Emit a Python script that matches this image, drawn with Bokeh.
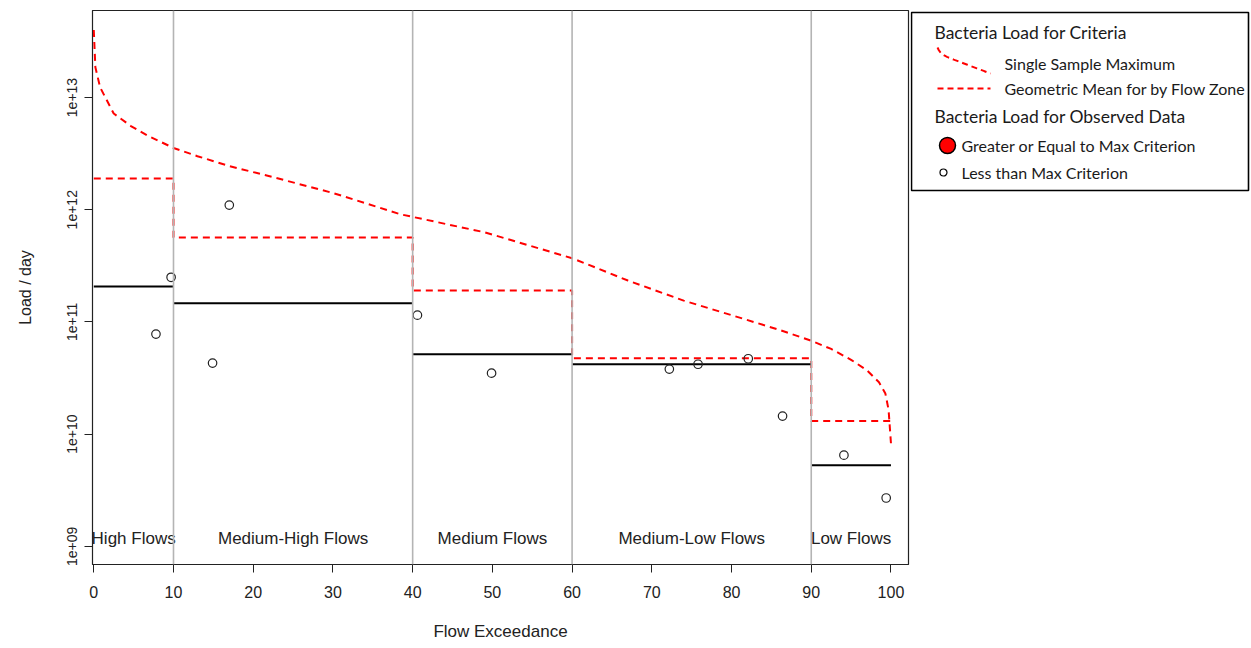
import numpy as np
from bokeh.plotting import figure
from bokeh.models import Range1d, FixedTicker, CustomJSTickFormatter, Span
from bokeh.layouts import row
from bokeh.embed import file_html
from bokeh.resources import INLINE
from bokeh.core.properties import value

# ---------------- data ----------------
flow_pct = [0, 0.2, 0.8, 2.5, 4.6, 6.7, 10, 13, 17, 22.5, 30, 38.5, 49, 60, 67, 74,
            80, 86, 90, 92.5, 95, 97, 98.5, 99.3, 99.7, 100]
single_sample_max = [4.0e13, 1.86e13, 1.23e13, 7.2e12, 5.6e12, 4.6e12, 3.55e12, 3.0e12,
                     2.45e12, 1.95e12, 1.41e12, 9.1e11, 6.3e11, 3.7e11, 2.34e11, 1.55e11,
                     1.15e11, 8.5e10, 6.8e10, 5.75e10, 4.6e10, 3.7e10, 2.9e10, 2.3e10,
                     1.65e10, 8.3e9]

zone_edges = [0, 10, 40, 60, 90, 100]
zone_names = ["High Flows", "Medium-High Flows", "Medium Flows", "Medium-Low Flows", "Low Flows"]
geomean_criterion = [1.9e12, 5.67e11, 1.91e11, 4.74e10, 1.31e10]
geomean_observed = [2.07e11, 1.47e11, 5.15e10, 4.19e10, 5.28e9]

obs_pct = [7.8, 9.7, 14.9, 17.0, 40.6, 49.9, 72.2, 75.8, 82.1, 86.4, 94.1, 99.4]
obs_load = [7.8e10, 2.5e11, 4.3e10, 1.1e12, 1.15e11, 3.5e10, 3.8e10, 4.2e10, 4.7e10,
            1.45e10, 6.5e9, 2.7e9]

x_ticks = [0, 10, 20, 30, 40, 50, 60, 70, 80, 90, 100]
y_ticks = [1e9, 1e10, 1e11, 1e12, 1e13]

legend_titles = ["Bacteria Load for Criteria", "Bacteria Load for Observed Data"]
legend_items = ["Single Sample Maximum", "Geometric Mean for by Flow Zone",
                "Greater or Equal to Max Criterion", "Less than Max Criterion"]

RED = "#ff0000"
FONT = "Liberation Sans"
LFONT = "Lato"

# ---------------- main plot ----------------
p = figure(width=910, height=646, x_range=Range1d(-0.16, 102.2),
           y_range=Range1d(6.9e8, 5.96e13), y_axis_type="log",
           output_backend="svg", toolbar_location=None,
           min_border_left=92, min_border_top=10, min_border_right=2, min_border_bottom=82)
p.background_fill_color = "white"
p.border_fill_color = "white"
p.outline_line_color = "#222222"
p.outline_line_width = 1.2
p.xgrid.visible = False
p.ygrid.visible = False

p.xaxis.ticker = FixedTicker(ticks=x_ticks)
p.yaxis.ticker = FixedTicker(ticks=y_ticks)
p.yaxis.formatter = CustomJSTickFormatter(
    code="var e = Math.round(Math.log10(tick)); return '1e+' + (e < 10 ? '0' + e : '' + e);")
for ax in (p.xaxis, p.yaxis):
    ax.axis_line_color = "#222222"
    ax.major_tick_line_color = "#222222"
    ax.minor_tick_line_color = None
    ax.major_tick_out = 8
    ax.major_tick_in = 0
    ax.major_label_text_font = FONT
    ax.axis_label_text_font = FONT
    ax.axis_label_text_font_style = "normal"
    ax.axis_label_text_color = "#222222"
    ax.major_label_text_color = "#222222"

p.xaxis.axis_label = "Flow Exceedance"
p.xaxis.major_label_text_font_size = "16px"
p.xaxis.axis_label_text_font_size = "17px"
p.xaxis.major_label_standoff = 13
p.xaxis.axis_label_standoff = 21

p.yaxis.axis_label = "Load / day"
p.yaxis.major_label_orientation = "vertical"
p.yaxis.major_label_text_font_size = "14px"
p.yaxis.axis_label_text_font_size = "16px"
p.yaxis.major_label_standoff = 7
p.yaxis.axis_label_standoff = 31

# zone separators
for e in zone_edges[1:-1]:
    p.add_layout(Span(location=e, dimension="height", line_color="#b4b4b4", line_width=1.6))

# single sample maximum curve
p.line(flow_pct, single_sample_max, line_color=RED, line_width=2, line_dash="7 5")

# geometric mean criterion step line
step_x, step_y = [], []
for i, v in enumerate(geomean_criterion):
    step_x += [zone_edges[i], zone_edges[i + 1]]
    step_y += [v, v]
p.line(step_x, step_y, line_color=RED, line_width=2, line_dash="7 5")

# observed geometric mean per zone
p.segment(x0=zone_edges[:-1], x1=zone_edges[1:], y0=geomean_observed, y1=geomean_observed,
          line_color="black", line_width=2)

# observed points
p.scatter(obs_pct, obs_load, size=8.5, marker="circle", fill_color=None,
          line_color="#222222", line_width=1.2)

# zone names
mids = [(zone_edges[i] + zone_edges[i + 1]) / 2 for i in range(len(zone_names))]
p.text(x=mids, y=[1.18e9] * len(mids), text=zone_names, text_align="center",
       text_baseline="middle", text_font=value(FONT), text_font_size="17px",
       text_color="#222222")

# ---------------- legend panel ----------------
# the row aligns this panel's frame with the main frame (page y 10..564)
L = figure(width=340, height=646, x_range=Range1d(0, 340), y_range=Range1d(564, 10),
           output_backend="svg", toolbar_location=None, x_axis_type=None, y_axis_type=None,
           min_border=0)
L.outline_line_color = None
L.xgrid.visible = False
L.ygrid.visible = False
L.background_fill_color = "white"
L.border_fill_color = "white"

L.quad(left=[1], right=[338], top=[12], bottom=[190], fill_color=None,
       line_color="black", line_width=1.6)

L.text(x=[24, 24], y=[32, 116], text=legend_titles, text_baseline="middle",
       text_font=value(LFONT), text_font_size="17.5px", text_color="#1a1a1a")
L.text(x=[94, 94, 51, 51], y=[63, 88, 145, 172], text=legend_items, text_baseline="middle",
       text_font=value(LFONT), text_font_size="16px", text_color="#1a1a1a")

t = np.linspace(0, 1, 40)
cx = 27 + 53 * t
cy = 47 + 6 * (1 - np.exp(-18 * t)) + 20 * t
L.line(cx, cy, line_color=RED, line_width=2, line_dash="6 4")
L.line([27, 80], [88, 88], line_color=RED, line_width=2, line_dash="6 4")
L.scatter([37], [145], size=16, marker="circle", fill_color=RED, line_color="black",
          line_width=1.5)
L.scatter([33], [172], size=7, marker="circle", fill_color=None, line_color="black",
          line_width=1.2)

layout = row(p, L)
open("out.html", "w").write(file_html(layout, INLINE))
